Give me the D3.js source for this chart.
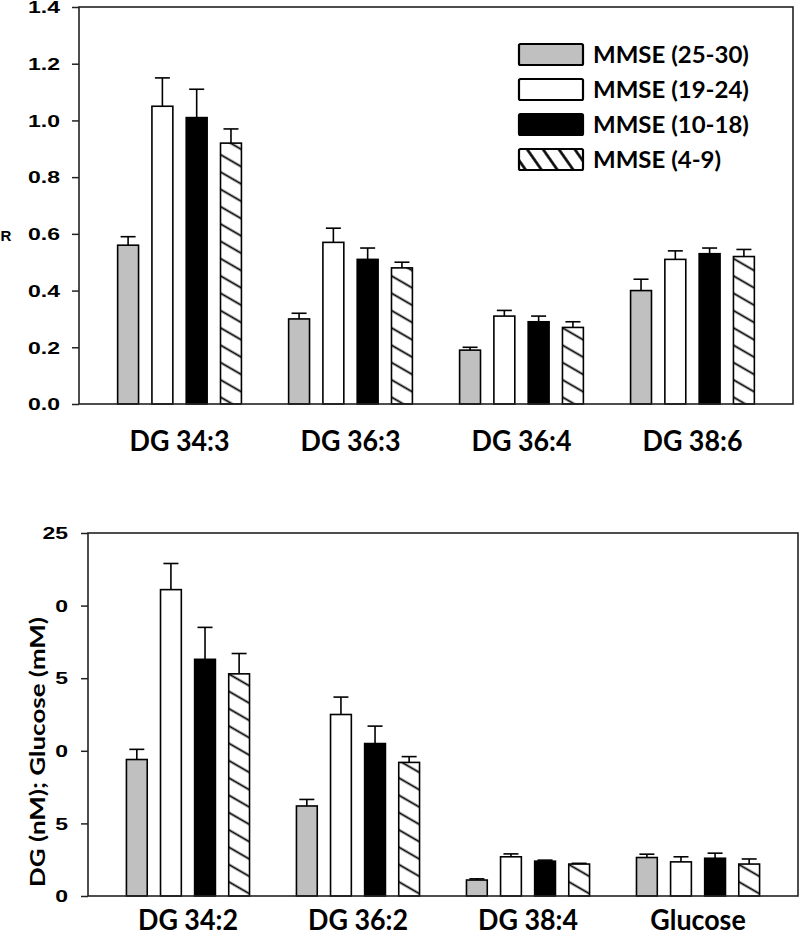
<!DOCTYPE html>
<html>
<head>
<meta charset="utf-8">
<script src="https://cdn.jsdelivr.net/npm/d3@7"></script>
<style>
  html, body { margin: 0; padding: 0; background: #fff; }
  svg { display: block; }
</style>
</head>
<body>
<svg id="chart" width="800" height="935"></svg>
<script>
// ---------------- DATA ----------------
const series = ["MMSE (25-30)", "MMSE (19-24)", "MMSE (10-18)", "MMSE (4-9)"];

const topCategories = ["DG 34:3", "DG 36:3", "DG 36:4", "DG 38:6"];
const topMeans = [
  [0.56, 1.05, 1.01, 0.92],
  [0.30, 0.57, 0.51, 0.48],
  [0.19, 0.31, 0.29, 0.27],
  [0.40, 0.51, 0.53, 0.52]
];
const topErrors = [
  [0.03, 0.10, 0.10, 0.05],
  [0.02, 0.05, 0.04, 0.02],
  [0.01, 0.02, 0.02, 0.02],
  [0.04, 0.03, 0.02, 0.025]
];
const topTickValues = [0, 0.2, 0.4, 0.6, 0.8, 1.0, 1.2, 1.4];
const topTickLabels = ["0.0", "0.2", "0.4", "0.6", "0.8", "1.0", "1.2", "1.4"];
const topYLabel = "R";

const bottomCategories = ["DG 34:2", "DG 36:2", "DG 38:4", "Glucose"];
const bottomMeans = [
  [9.4, 21.1, 16.3, 15.3],
  [6.2, 12.5, 10.5, 9.2],
  [1.1, 2.7, 2.4, 2.2],
  [2.65, 2.35, 2.6, 2.2]
];
const bottomErrors = [
  [0.7, 1.8, 2.2, 1.4],
  [0.45, 1.2, 1.2, 0.4],
  [0.08, 0.2, 0.07, 0.05],
  [0.23, 0.35, 0.35, 0.35]
];
const bottomTickValues = [0, 5, 10, 15, 20, 25];
const bottomTickLabels = ["0", "5", "0", "5", "0", "25"];
const bottomYLabel = "DG (nM); Glucose (mM)";

// ---------------- STYLE ----------------
const fills = ["#c0c0c0", "#ffffff", "#000000", "url(#hatchBar)"];
const legendFills = ["#c0c0c0", "#ffffff", "#000000", "url(#hatchLegend)"];
const numFont = "'Liberation Sans', Arial, sans-serif";
const labFont = "Lato, 'Open Sans', sans-serif";

const svg = d3.select("#chart");
const defs = svg.append("defs");

function makeHatch(id, angle, spacing, sw) {
  const p = defs.append("pattern")
    .attr("id", id)
    .attr("patternUnits", "userSpaceOnUse")
    .attr("width", 10)
    .attr("height", spacing)
    .attr("patternTransform", `rotate(${angle})`);
  p.append("rect").attr("width", 10).attr("height", spacing).attr("fill", "#fff");
  p.append("line").attr("x1", -1).attr("x2", 11)
    .attr("y1", spacing / 2).attr("y2", spacing / 2)
    .attr("stroke", "#000").attr("stroke-width", sw);
}
makeHatch("hatchBar", 30, 15, 1.8);
makeHatch("hatchLegend", 55, 13, 2.6);

// measure helper for horizontal stretch of text
const measurer = svg.append("text").attr("visibility", "hidden");
function widthOf(str, family, size, weight) {
  measurer.attr("font-family", family).attr("font-size", size).attr("font-weight", weight).text(str);
  return measurer.node().getComputedTextLength();
}
const numSize = 16;
const numSx = 32 / widthOf("0.0", numFont, numSize, "bold");
const catSize = 28;
const catSx = 100 / widthOf("DG 34:3", labFont, catSize, "bold");
const legSize = 23;
const legSx = 156 / widthOf("MMSE (25-30)", labFont, legSize, "bold");

function drawPanel(cfg) {
  const g = svg.append("g");
  const x0 = d3.scaleBand().domain(cfg.categories)
    .range([cfg.left, cfg.right]).paddingInner(0.276).paddingOuter(0.226);
  const x1 = d3.scaleBand().domain(series)
    .range([0, x0.bandwidth()]).paddingInner(0.39).paddingOuter(0);
  const y = d3.scaleLinear().domain(cfg.domain).range([cfg.bottom, cfg.top]);

  // bars
  cfg.categories.forEach((cat, ci) => {
    const cg = g.append("g").attr("transform", `translate(${x0(cat)},0)`);
    const rows = series.map((s, si) => ({ s, si, v: cfg.means[ci][si], e: cfg.errors[ci][si] }));
    cg.selectAll("line.err").data(rows).join("line")
      .attr("x1", d => x1(d.s) + x1.bandwidth() / 2)
      .attr("x2", d => x1(d.s) + x1.bandwidth() / 2)
      .attr("y1", d => y(d.v)).attr("y2", d => y(d.v + d.e))
      .attr("stroke", "#000").attr("stroke-width", 1.6);
    cg.selectAll("line.cap").data(rows).join("line")
      .attr("x1", d => x1(d.s) + x1.bandwidth() / 2 - 7.5)
      .attr("x2", d => x1(d.s) + x1.bandwidth() / 2 + 7.5)
      .attr("y1", d => y(d.v + d.e)).attr("y2", d => y(d.v + d.e))
      .attr("stroke", "#000").attr("stroke-width", 1.6);
    cg.selectAll("rect").data(rows).join("rect")
      .attr("x", d => x1(d.s))
      .attr("width", x1.bandwidth())
      .attr("y", d => y(d.v))
      .attr("height", d => y(0) - y(d.v))
      .attr("fill", d => fills[d.si])
      .attr("stroke", "#000").attr("stroke-width", 1.6);
  });

  // frame
  g.append("rect")
    .attr("x", cfg.left).attr("y", cfg.top)
    .attr("width", cfg.right - cfg.left).attr("height", cfg.bottom - cfg.top)
    .attr("fill", "none").attr("stroke", "#222").attr("stroke-width", 1.6);

  // y axis
  const ax = g.append("g").attr("transform", `translate(${cfg.left},0)`)
    .call(d3.axisLeft(y).tickValues(cfg.tickValues)
      .tickFormat((d, i) => cfg.tickLabels[i]).tickSize(7).tickPadding(0));
  ax.select(".domain").remove();
  ax.selectAll(".tick line").attr("stroke", "#222").attr("stroke-width", 1.5);
  ax.selectAll(".tick text")
    .attr("x", 0)
    .attr("dy", "0.36em")
    .attr("transform", `translate(${-cfg.labelGap},0) scale(${numSx},1)`)
    .attr("font-family", numFont).attr("font-size", numSize).attr("font-weight", "bold")
    .attr("fill", "#000");

  // category labels
  g.selectAll("text.cat").data(cfg.categories).join("text")
    .attr("class", "cat")
    .attr("text-anchor", "middle")
    .attr("transform", d => `translate(${x0(d) + x0.bandwidth() / 2},${cfg.catY}) scale(${catSx},1)`)
    .attr("font-family", labFont).attr("font-size", catSize).attr("font-weight", "bold")
    .attr("fill", "#000")
    .text(d => d);
  return { x0, x1, y };
}

drawPanel({
  categories: topCategories, means: topMeans, errors: topErrors,
  left: 79, right: 793, top: 7, bottom: 404, domain: [0, 1.4],
  tickValues: topTickValues, tickLabels: topTickLabels, labelGap: 19, catY: 451
});

drawPanel({
  categories: bottomCategories, means: bottomMeans, errors: bottomErrors,
  left: 88, right: 798, top: 533, bottom: 896, domain: [0, 25],
  tickValues: bottomTickValues, tickLabels: bottomTickLabels, labelGap: 20, catY: 930
});

// y labels
svg.append("text")
  .attr("x", 6).attr("y", 236).attr("dy", "0.36em")
  .attr("text-anchor", "middle")
  .attr("font-family", numFont).attr("font-size", 15).attr("font-weight", "bold")
  .text(topYLabel);

svg.append("text")
  .attr("transform", "translate(45,752) rotate(-90)")
  .attr("text-anchor", "middle")
  .attr("font-family", labFont).attr("font-size", 20).attr("font-weight", "bold")
  .attr("textLength", 270).attr("lengthAdjust", "spacingAndGlyphs")
  .text(bottomYLabel);

// legend
const leg = svg.append("g");
const legRows = leg.selectAll("g").data(series).join("g")
  .attr("transform", (d, i) => `translate(519,${44 + i * 35})`);
legRows.append("rect")
  .attr("width", 64).attr("height", 21).attr("rx", 1.5)
  .attr("fill", (d, i) => legendFills[i])
  .attr("stroke", "#000").attr("stroke-width", 2.2);
legRows.append("text")
  .attr("transform", `translate(74,10.5) scale(${legSx},1)`)
  .attr("dy", "0.36em")
  .attr("font-family", labFont).attr("font-size", legSize).attr("font-weight", "bold")
  .attr("fill", "#000")
  .text(d => d);

measurer.remove();
</script>
</body>
</html>
